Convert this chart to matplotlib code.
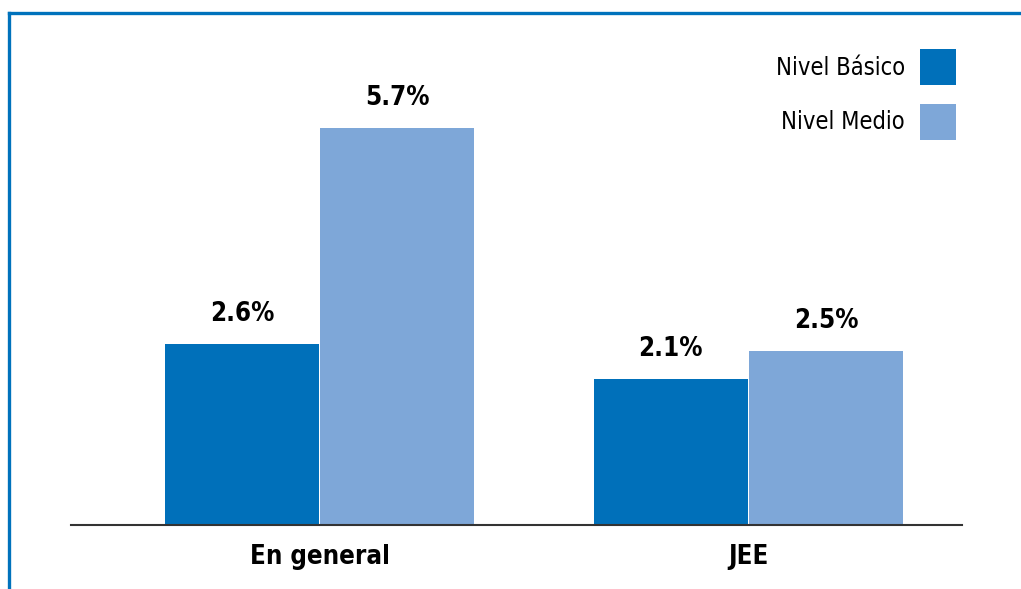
import matplotlib
matplotlib.use("Agg")
import matplotlib.pyplot as plt
from matplotlib.lines import Line2D
import numpy as np

# --------------------- Data ---------------------
categories = ["En general", "JEE"]
series_names = ["Nivel Básico", "Nivel Medio"]
basico = [2.6, 2.1]
medio = [5.7, 2.5]

dark_blue = "#0070BA"
light_blue = "#7EA7D8"
frame_blue = "#0072BC"

plt.rcParams['font.family'] = ['DejaVu Sans']
plt.rcParams['font.stretch'] = 'condensed'

# --------------------- Figure ---------------------
fig = plt.figure(figsize=(10.21, 5.89), dpi=100)
ax = fig.add_axes([71 / 1021, 64 / 589, 891 / 1021, 517 / 589])

x = np.arange(len(categories))
w = 0.359
b1 = ax.bar(x - w / 2 - 0.001, basico, width=w, color=dark_blue, label=series_names[0])
b2 = ax.bar(x + w / 2 + 0.002, medio, width=w, color=light_blue, label=series_names[1])

for bars, vals in ((b1, basico), (b2, medio)):
    for rect, v in zip(bars, vals):
        ax.annotate(f"{v:.1f}%", (rect.get_x() + rect.get_width() / 2, v),
                    xytext=(0, 12), textcoords="offset points",
                    ha="center", va="bottom", fontsize=18.5, fontweight="bold")

ax.set_xlim(-0.58, 1.499)
ax.set_ylim(0, 7.42)
ax.set_xticks(x)
ax.set_xticklabels(categories, fontsize=18.5, fontweight="bold")
ax.tick_params(axis="x", length=0, pad=14)
ax.set_yticks([])
for s in ("top", "right", "left"):
    ax.spines[s].set_visible(False)
ax.spines["bottom"].set_color("#333333")
ax.spines["bottom"].set_linewidth(1.5)

ax.legend(loc="upper right", bbox_to_anchor=(0.993, 0.9207), markerfirst=False,
          frameon=False, fontsize=17, handlelength=1.52, handleheight=1.97,
          labelspacing=0.8, handletextpad=0.64, borderaxespad=0, borderpad=0)

# frame around the figure (left and top edges)
fig.add_artist(Line2D([9 / 1021, 9 / 1021], [0, 1 - 13 / 589], color=frame_blue, lw=2.4,
                      transform=fig.transFigure, solid_capstyle="projecting"))
fig.add_artist(Line2D([9 / 1021, 1], [1 - 13 / 589, 1 - 13 / 589], color=frame_blue, lw=2.4,
                      transform=fig.transFigure, solid_capstyle="projecting"))

fig.savefig("out.png", dpi=100)
